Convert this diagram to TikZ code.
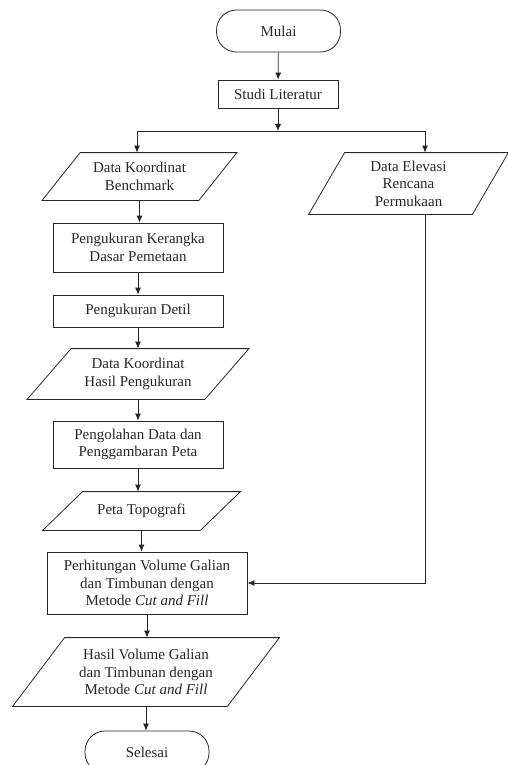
\documentclass[tikz,border=0pt]{standalone}
\usepackage{fontspec}
\setmainfont{Liberation Serif}
\usetikzlibrary{arrows.meta}

\tikzset{
    terminal/.style={draw, rectangle, rounded corners=20pt, minimum width=124pt, minimum height=42pt},
    process/.style={draw, rectangle, align=center},
    data/.style={rectangle, align=center},
}

\begin{document}
\begin{tikzpicture}[x=1pt, y=-1pt, line width=0.8pt, draw=black!85, text=black!85,
        font=\fontsize{15}{17.5}\selectfont, >={Latex[length=7pt, width=6pt]}]
    \clip (0,0) rectangle (508,765);
    % Nodes
    \node [terminal] (mulai) at (278.5,31) {Mulai};
    \node [process, minimum width=120pt, minimum height=28pt] (studi) at (278,94) {Studi Literatur};
    \node [data, minimum width=156pt, minimum height=47pt] (bench) at (139.5,176.5) {Data Koordinat\\Benchmark};
    \node [data, minimum width=163pt, minimum height=61pt] (elev) at (408.5,183.5) {Data Elevasi\\Rencana\\Permukaan};
    \node [process, minimum width=170pt, minimum height=49pt] (kerangka) at (138,247.5) {Pengukuran Kerangka\\Dasar Pemetaan};
    \node [process, minimum width=170pt, minimum height=32pt] (detil) at (138,311) {Pengukuran Detil};
    \node [data, minimum width=177pt, minimum height=50pt] (hasilukur) at (138,374) {Data Koordinat\\Hasil Pengukuran};
    \node [process, minimum width=170pt, minimum height=47pt] (olah) at (138,444.5) {Pengolahan Data dan\\Penggambaran Peta};
    \node [data, minimum width=157pt, minimum height=38pt] (peta) at (141.5,511) {Peta Topografi};
    \node [process, minimum width=200pt, minimum height=62pt] (hitung) at (147,583) {Perhitungan Volume Galian\\dan Timbunan dengan\\Metode \textit{Cut and Fill}};
    \node [data, minimum width=214pt, minimum height=68pt] (hasilvol) at (146,672) {Hasil Volume Galian\\dan Timbunan dengan\\Metode \textit{Cut and Fill}};
    \node [terminal] (selesai) at (147,752) {Selesai};
    % Data frames
    \foreach \n/\s in {bench/19, elev/18, hasilukur/22, peta/20, hasilvol/26}
        \draw ([xshift=\s]\n.north west) -- ([xshift=\s]\n.north east)
            -- ([xshift=-\s]\n.south east) -- ([xshift=-\s]\n.south west) -- cycle;
    % Branch
    \coordinate (split) at (278,131);
    \coordinate (splitL) at (137,131);
    \coordinate (splitR) at (425,131);
    \draw [->] (mulai) -- (studi);
    \draw [->] (studi) -- (split);
    \draw (splitL) -- (splitR);
    \draw [->] (splitL) -- (splitL |- bench.north);
    \draw [->] (splitR) -- (splitR |- elev.north);
    \draw [->] (splitR |- elev.south) -- (splitR |- hitung) -- (hitung.east);
    % Main column
    \foreach \a/\b in {bench/kerangka, kerangka/detil, detil/hasilukur, hasilukur/olah,
            olah/peta, peta/hitung, hitung/hasilvol, hasilvol/selesai}
        \draw [->] (\a.south) -- (\a.south |- \b.north);
\end{tikzpicture}
\end{document}
